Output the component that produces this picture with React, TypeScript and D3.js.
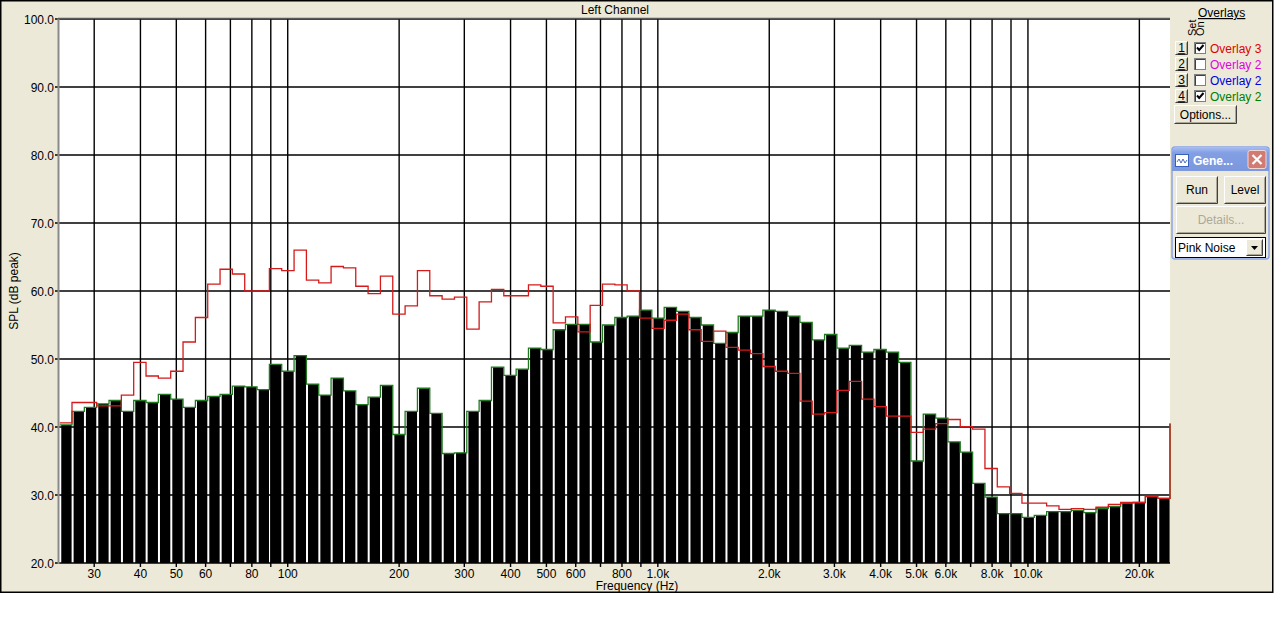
import React from 'react';
import * as d3 from 'd3';

// ---------- data ----------
const Y_TICK_VALUES = [20, 30, 40, 50, 60, 70, 80, 90, 100];
const X_GRID_FREQS = [30, 40, 50, 60, 70, 80, 90, 100, 200, 300, 400, 500, 600, 700, 800, 900,
  1000, 2000, 3000, 4000, 5000, 6000, 7000, 8000, 9000, 10000, 20000];
const X_LABEL_FREQS = [30, 40, 50, 60, 80, 100, 200, 300, 400, 500, 600, 800,
  1000, 2000, 3000, 4000, 5000, 6000, 8000, 10000, 20000];
const X_LABEL_TEXTS = ['30', '40', '50', '60', '80', '100', '200', '300', '400', '500', '600', '800',
  '1.0k', '2.0k', '3.0k', '4.0k', '5.0k', '6.0k', '8.0k', '10.0k', '20.0k'];

const BAND_START_HZ = 24.2;
const BANDS_PER_DECADE = 30;

// Overlay 2 (green, black bars) – SPL per band, dB
const overlay2Values = [
  40.3, 42.3, 42.9, 43.4, 43.9, 42.3, 43.9, 43.6, 44.8, 44.1,
  42.9, 43.9, 44.5, 44.8, 46.0, 45.9, 45.5, 49.2, 48.2, 50.5,
  46.3, 44.7, 47.2, 45.3, 43.3, 44.4, 46.1, 38.9, 42.3, 45.7,
  42.0, 36.1, 36.2, 42.3, 43.9, 48.8, 47.6, 48.5, 51.6, 51.4,
  54.3, 55.1, 55.1, 52.5, 55.0, 56.1, 56.3, 57.2, 56.0, 57.6,
  57.0, 56.1, 55.0, 52.3, 53.9, 56.3, 56.3, 57.2, 57.0, 56.3,
  55.4, 52.8, 53.6, 51.6, 52.0, 51.0, 51.4, 51.0, 49.5, 35.0,
  41.9, 41.3, 37.8, 36.3, 31.7, 29.7, 27.25, 27.25, 26.7, 27.0,
  27.55, 27.55, 27.75, 27.4, 28.0, 28.3, 28.8, 28.9, 29.8, 29.5,
];
const overlay2End = 40.5;

// Overlay 3 (red step line)
const overlay3Values = [
  40.6, 43.6, 43.6, 43.1, 43.1, 44.7, 49.5, 47.5, 47.2, 48.2,
  52.5, 56.1, 61.0, 63.2, 62.5, 60.0, 60.0, 63.3, 63.0, 66.0,
  61.6, 61.2, 63.6, 63.4, 60.7, 59.6, 62.2, 56.6, 57.8, 63.0,
  59.3, 58.8, 59.1, 54.4, 58.4, 60.25, 59.3, 59.3, 60.9, 60.7,
  55.3, 56.2, 54.0, 57.9, 61.0, 60.9, 60.0, 56.0, 54.5, 55.7,
  56.6, 54.3, 52.6, 54.1, 51.7, 51.3, 50.8, 48.9, 48.2, 47.9,
  43.8, 41.9, 42.1, 45.4, 46.7, 44.1, 43.0, 41.6, 41.6, 39.2,
  39.7, 40.5, 41.1, 40.05, 39.7, 33.9, 31.2, 30.25, 28.8, 28.8,
  28.4, 27.9, 28.0, 27.9, 28.2, 28.6, 28.9, 28.9, 29.75, 29.5,
];
const overlay3End = 40.5;

const OVERLAY_NAMES = ['Overlay 3', 'Overlay 2', 'Overlay 2', 'Overlay 2'];
const OVERLAY_SETS = ['1', '2', '3', '4'];
const OVERLAY_ON = [true, false, false, true];
const OVERLAY_TEXT_COLORS = ['#e00000', '#e000e0', '#0000e0', '#008000'];

// ---------- styles ----------
const FONT = 'Liberation Sans, Arial, sans-serif';
const BG = '#ECE9D8';

function Btn({ x, y, w, h, label, disabled = false, fs = 12, underline = false }:
  { x: number; y: number; w: number; h: number; label: string; disabled?: boolean; fs?: number; underline?: boolean }) {
  return (
    <g>
      <rect x={x} y={y} width={w} height={h} fill={BG} />
      <path d={`M${x + 0.5},${y + h - 1}V${y + 0.5}H${x + w - 1}`} stroke="#ffffff" fill="none" />
      <path d={`M${x + 0.5},${y + h - 0.5}H${x + w - 0.5}V${y + 0.5}`} stroke="#404040" fill="none" />
      <path d={`M${x + 1.5},${y + h - 1.5}H${x + w - 1.5}V${y + 1.5}`} stroke="#ACA899" fill="none" />
      <text x={x + w / 2} y={y + h / 2 + fs * 0.36} textAnchor="middle" fontSize={fs}
        fontFamily={FONT} fill={disabled ? '#ACA899' : '#000'}
        textDecoration={underline ? 'underline' : undefined}>{label}</text>
    </g>
  );
}

export default function App() {
  const W = 1274;
  const H = 637;
  const L = 59, R = 1170, T = 19, B = 563;

  const x = d3.scaleLog().domain([24.1, 24200]).range([L, R]);
  const y = d3.scaleLinear().domain([20, 100]).range([B, T]);

  const nBands = overlay2Values.length;
  const edges = d3.range(nBands + 1).map((i) => BAND_START_HZ * Math.pow(10, i / BANDS_PER_DECADE));

  const stepPoints = (vals: number[], endVal: number): [number, number][] => {
    const pts: [number, number][] = vals.map((v, i) => [x(edges[i]), y(v)]);
    pts.push([x(edges[nBands]), y(vals[nBands - 1])]);
    pts.push([x(edges[nBands]), y(endVal)]);
    return pts;
  };
  const stepLine = d3.line<[number, number]>().curve(d3.curveStepAfter);
  const greenPath = stepLine(stepPoints(overlay2Values, overlay2End)) || '';
  const redPath = stepLine(stepPoints(overlay3Values, overlay3End)) || '';

  const rowY = [41, 57, 73, 89];

  return (
    <svg width={W} height={H} style={{ position: 'absolute', left: 0, top: 0 }} xmlns="http://www.w3.org/2000/svg">
      <defs>
        <linearGradient id="tb" x1="0" y1="0" x2="0" y2="1">
          <stop offset="0" stopColor="#a9bff2" />
          <stop offset="0.25" stopColor="#829fe4" />
          <stop offset="1" stopColor="#7b97dd" />
        </linearGradient>
      </defs>
      <rect x={0} y={0} width={W} height={H} fill="#ffffff" />
      {/* outer frame */}
      <rect x={0.75} y={0.75} width={1272} height={591.5} fill={BG} stroke="#000" strokeWidth={1.5} />

      {/* title */}
      <text x={615} y={14} textAnchor="middle" fontSize={12} fontFamily={FONT}>Left Channel</text>

      {/* plot background */}
      <rect x={L} y={T} width={R - L} height={B - T} fill="#ffffff" />

      {/* grid */}
      {Y_TICK_VALUES.map((v) => (
        <line key={'hy' + v} x1={L - 4} x2={R} y1={y(v)} y2={y(v)} stroke="#000" strokeWidth={1.4} />
      ))}
      {X_GRID_FREQS.map((f) => (
        <line key={'vx' + f} x1={x(f)} x2={x(f)} y1={T} y2={B + 4} stroke="#000" strokeWidth={1.4} />
      ))}

      {/* bars */}
      {overlay2Values.map((v, i) => {
        const x0 = x(edges[i]);
        const x1 = x(edges[i + 1]);
        return <rect key={'b' + i} x={x0 + 1.6} y={y(v)} width={x1 - x0 - 2} height={B - y(v)} fill="#000" />;
      })}

      {/* overlay lines */}
      <path d={greenPath} fill="none" stroke="#1f7a1f" strokeWidth={1.3} />
      <path d={redPath} fill="none" stroke="#d41a1a" strokeWidth={1.3} />

      {/* plot border (sunken) */}
      <line x1={L - 0.5} x2={L - 0.5} y1={T - 1} y2={B + 1} stroke="#8a8a8a" strokeWidth={2} />
      <line x1={L - 1} x2={R} y1={T - 0.5} y2={T - 0.5} stroke="#5a5a5a" strokeWidth={1.6} />

      {/* y labels */}
      {Y_TICK_VALUES.map((v) => (
        <text key={'yl' + v} x={54} y={y(v) + 4.5} textAnchor="end" fontSize={12} fontFamily={FONT}>{v.toFixed(1)}</text>
      ))}
      {/* x labels */}
      {X_LABEL_FREQS.map((f, i) => (
        <text key={'xl' + f} x={x(f)} y={577.5} textAnchor="middle" fontSize={12} fontFamily={FONT}>{X_LABEL_TEXTS[i]}</text>
      ))}
      <text x={637} y={590} textAnchor="middle" fontSize={12} fontFamily={FONT}>Frequency (Hz)</text>
      <text transform={`translate(18,291) rotate(-90)`} textAnchor="middle" fontSize={12} fontFamily={FONT}>SPL (dB peak)</text>

      {/* right panel: overlays */}
      <text x={1198} y={17} fontSize={12} fontFamily={FONT} textDecoration="underline">Overlays</text>
      <text transform="translate(1196,36) rotate(-90)" fontSize={11} fontFamily={FONT}>Set</text>
      <text transform="translate(1204,36) rotate(-90)" fontSize={11} fontFamily={FONT}>On</text>
      {OVERLAY_NAMES.map((name, i) => {
        const ry = rowY[i];
        return (
          <g key={'ov' + i}>
            <Btn x={1175} y={ry} w={13} h={14} label={OVERLAY_SETS[i]} underline />
            <rect x={1194.5} y={ry + 1.5} width={11} height={11} fill="#fff" stroke="#808080" />
            <path d={`M${1195.5},${ry + 12.5}V${ry + 2.5}H${1205}`} stroke="#404040" fill="none" />
            {OVERLAY_ON[i] && (
              <path d={`M${1197},${ry + 6.5}L${1199.2},${ry + 9}L${1203.5},${ry + 4}`} stroke="#000" strokeWidth={2} fill="none" />
            )}
            <text x={1210} y={ry + 11.5} fontSize={12} fontFamily={FONT} fill={OVERLAY_TEXT_COLORS[i]}>{name}</text>
          </g>
        );
      })}
      <Btn x={1174} y={105} w={63} h={19} label="Options..." />

      {/* generator window */}
      <rect x={1172} y={147} width={97} height={112} rx={3} fill={BG} stroke="#8aa4e6" strokeWidth={1.5} />
      <path d="M1172,171 V152 Q1172,147 1177,147 H1264 Q1269,147 1269,152 V171 Z" fill="url(#tb)" />
      <rect x={1175.5} y={154.5} width={13} height={12} fill="#fff" stroke="#3a5fb8" />
      <path d="M1177,162 l2,-3 l2,4 l2,-4 l2,4 l2,-3" stroke="#3a5fb8" fill="none" strokeWidth={0.9} />
      <text x={1193} y={165} fontSize={12} fontWeight="bold" fontFamily={FONT} fill="#fff">Gene...</text>
      <rect x={1248} y={150.5} width={18} height={18} rx={2} fill="#d27b73" stroke="#f2d6d2" />
      <path d="M1252.5,155 L1261.5,164 M1261.5,155 L1252.5,164" stroke="#fff" strokeWidth={2.2} />
      <Btn x={1176} y={176} w={42} h={28} label="Run" />
      <Btn x={1224} y={176} w={42} h={28} label="Level" />
      <Btn x={1176} y={206} w={90} h={28} label="Details..." disabled />
      <rect x={1175.5} y={237.5} width={90} height={20} fill="#fff" stroke="#000" />
      <text x={1178} y={252} fontSize={12} fontFamily={FONT}>Pink Noise</text>
      <Btn x={1246} y={239} w={17} h={17} label="" />
      <path d="M1251,246 h7 l-3.5,4 z" fill="#000" />
    </svg>
  );
}
